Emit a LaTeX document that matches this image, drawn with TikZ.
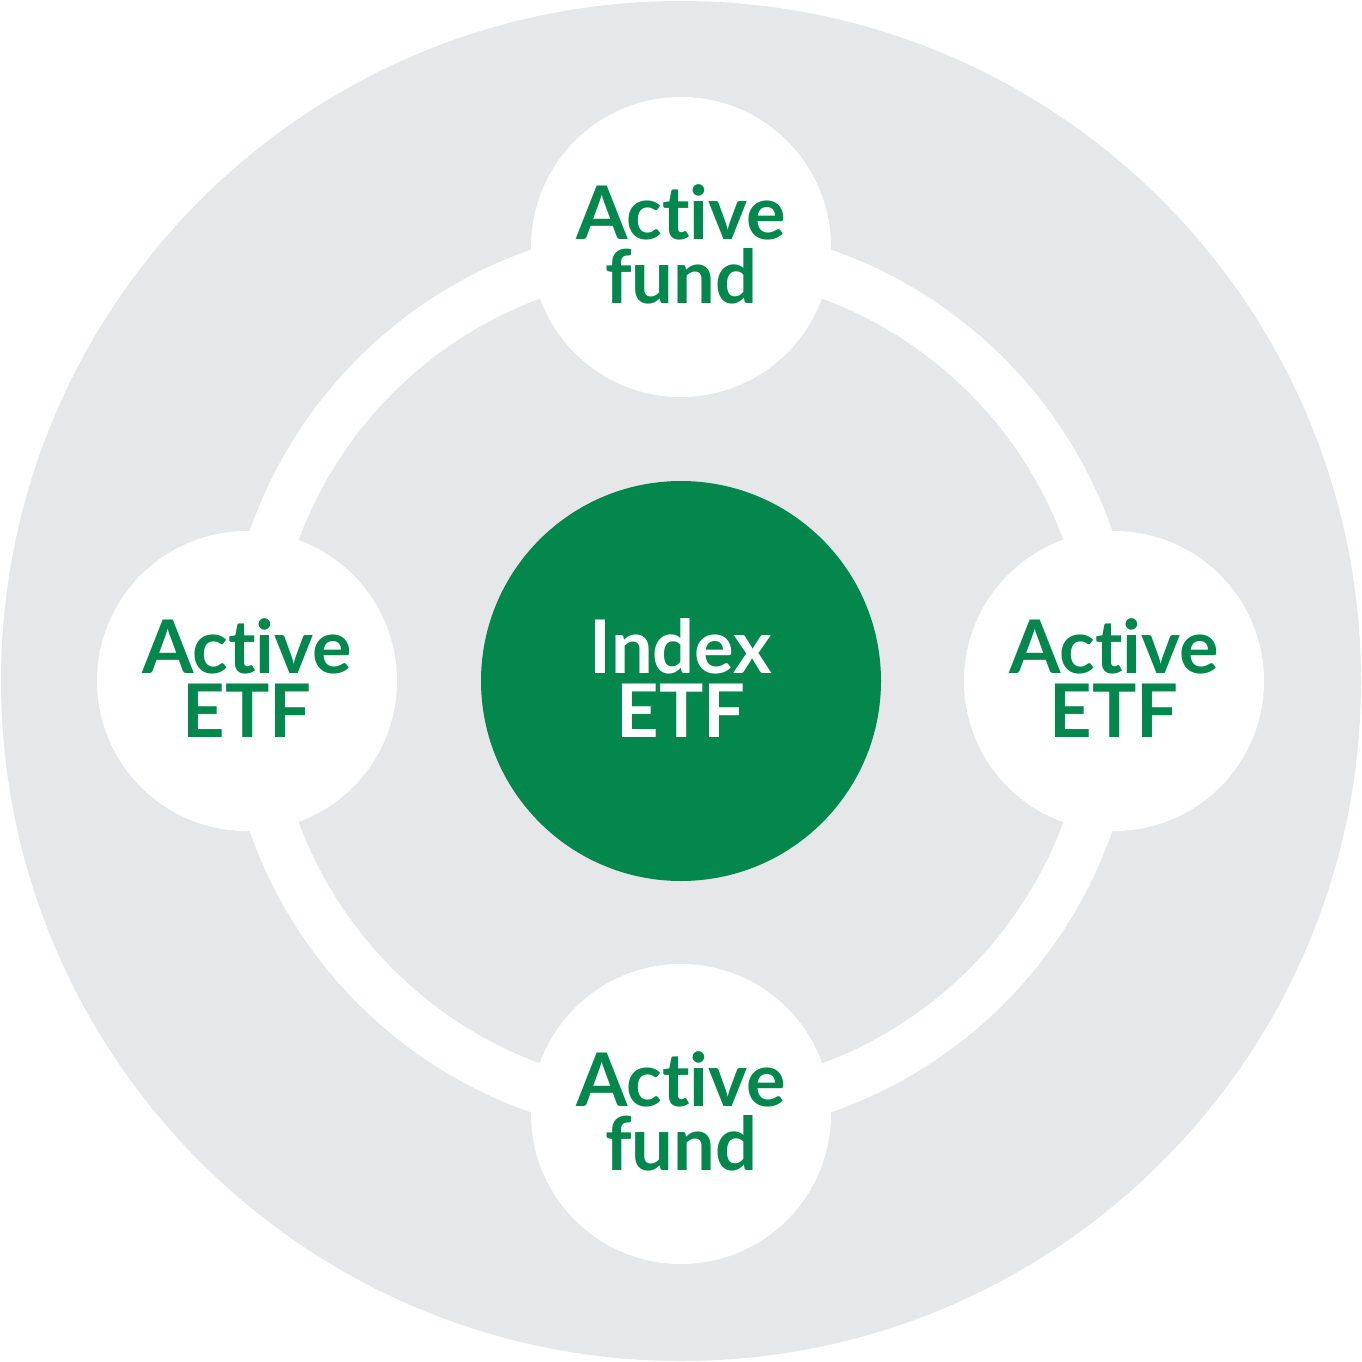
\documentclass[tikz,border=0pt]{standalone}
\usepackage{fontspec}
\setmainfont{Lato}[Ligatures={NoCommon,NoDiscretionary}]
\definecolor{bggray}{HTML}{E6E7E8}
\definecolor{etfgreen}{HTML}{03874D}
\begin{document}
\begin{tikzpicture}[x=1pt,y=-1pt,
  lbl/.style={font=\bfseries\fontsize{74}{64}\selectfont, align=center, text=etfgreen},
  small/.style={circle, fill=white, minimum size=300pt, inner sep=0pt}]
\useasboundingbox (0,0) rectangle (1362,1362);
\fill[bggray] (681,681) circle[radius=680];
\draw[white, line width=49pt] (681,681) circle[radius=432];
\node[circle, fill=etfgreen, minimum size=400pt, inner sep=0pt] (idx) at (681,681) {};
\node[small] (top) at (681,247) {};
\node[small] (bot) at (681,1114) {};
\node[small] (lft) at (247,681) {};
\node[small] (rgt) at (1114,681) {};
\node[lbl, text=white] (tidx) at (681,678) {Index\\ETF};
\node[lbl] (ttop) at (681,244) {Active\\fund};
\node[lbl] (tbot) at (681,1111) {Active\\fund};
\node[lbl] (tlft) at (247,678) {Active\\ETF};
\node[lbl] (trgt) at (1114,678) {Active\\ETF};
\end{tikzpicture}
\end{document}
